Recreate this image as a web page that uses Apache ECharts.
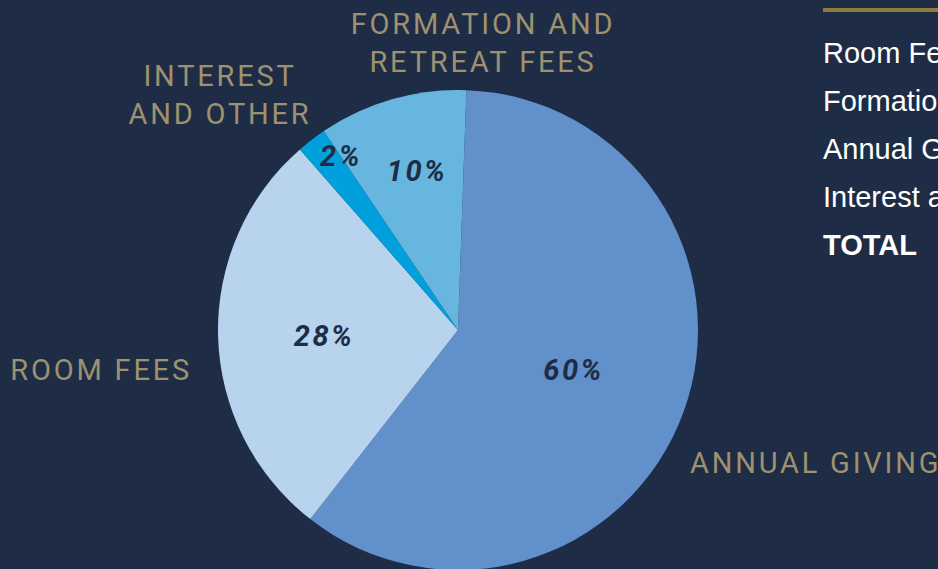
<!DOCTYPE html>
<html>
<head>
<meta charset="utf-8">
<script src="https://cdn.jsdelivr.net/npm/echarts@6/dist/echarts.min.js"></script>
<style>
html,body{margin:0;padding:0;background:#1e2d45;}
#c{width:938px;height:569px;}
#c text[style*="Roboto"]{letter-spacing:2.8px;}
#c text[style*="italic"]{letter-spacing:2.5px;}
</style>
</head>
<body>
<div id="c"></div>
<script>
// Data
const categories = ['ANNUAL GIVING', 'ROOM FEES', 'INTEREST\nAND OTHER', 'FORMATION AND\nRETREAT FEES'];
const values = [60, 28, 2, 10];
const sliceColors = ['#6190cb', '#b8d3ee', '#00a0dc', '#66b6df'];
const tableRows = ['Room Fees', 'Formation and Retreat Fees', 'Annual Giving', 'Interest and Other'];
const tableTotal = 'TOTAL';

// Label placement
const nameLabelPos = [
  {x: 690, y: 463, align: 'left'},
  {x: 192, y: 370, align: 'right'},
  {x: 220, y: 95, align: 'center'},
  {x: 483, y: 43, align: 'center'}
];
const pctOffsets = [[0, -2], [-11, 3], [-42, -77], [-7, -41]];

const chart = echarts.init(document.getElementById('c'), null, {renderer: 'svg'});

const pieData = categories.map((c, i) => ({name: c, value: values[i], itemStyle: {color: sliceColors[i]}}));

const graphics = [
  {type: 'rect', shape: {x: 823, y: 8, width: 115, height: 4}, style: {fill: '#8c7a3e'}}
];
tableRows.forEach((t, i) => {
  graphics.push({type: 'text', x: 823, y: 53 + i * 48, style: {text: t, fill: '#ffffff', font: '29px "Liberation Sans", Arial, sans-serif', textVerticalAlign: 'middle', textAlign: 'left'}});
});
graphics.push({type: 'text', x: 823, y: 245, style: {text: tableTotal, fill: '#ffffff', font: 'bold 29px "Liberation Sans", Arial, sans-serif', textVerticalAlign: 'middle', textAlign: 'left'}});

chart.setOption({
  backgroundColor: '#1e2d45',
  animation: false,
  graphic: graphics,
  series: [
    {
      type: 'pie',
      center: [458, 330],
      radius: [0, 240],
      startAngle: 88,
      clockwise: true,
      data: pieData,
      itemStyle: {borderWidth: 0},
      emphasis: {disabled: true},
      labelLine: {show: false},
      label: {
        show: true,
        position: 'inside',
        formatter: p => p.value + '%',
        color: '#1e2d45',
        fontFamily: 'Roboto',
        fontWeight: 'bold',
        fontStyle: 'italic',
        fontSize: 29
      },
      labelLayout: p => ({dx: pctOffsets[p.dataIndex][0], dy: pctOffsets[p.dataIndex][1]})
    },
    {
      type: 'pie',
      center: [458, 330],
      radius: [0, 240],
      startAngle: 88,
      clockwise: true,
      data: categories.map((c, i) => ({name: c, value: values[i]})),
      silent: true,
      itemStyle: {color: 'rgba(0,0,0,0)', borderWidth: 0},
      emphasis: {disabled: true},
      labelLine: {show: false},
      label: {
        show: true,
        position: 'inside',
        formatter: p => p.name,
        color: '#9e9170',
        fontFamily: 'Roboto',
        fontSize: 29,
        lineHeight: 38,
        align: 'center'
      },
      labelLayout: p => {
        const q = nameLabelPos[p.dataIndex];
        return {x: q.x, y: q.y, align: q.align, verticalAlign: 'middle'};
      }
    }
  ]
});
</script>
</body>
</html>
